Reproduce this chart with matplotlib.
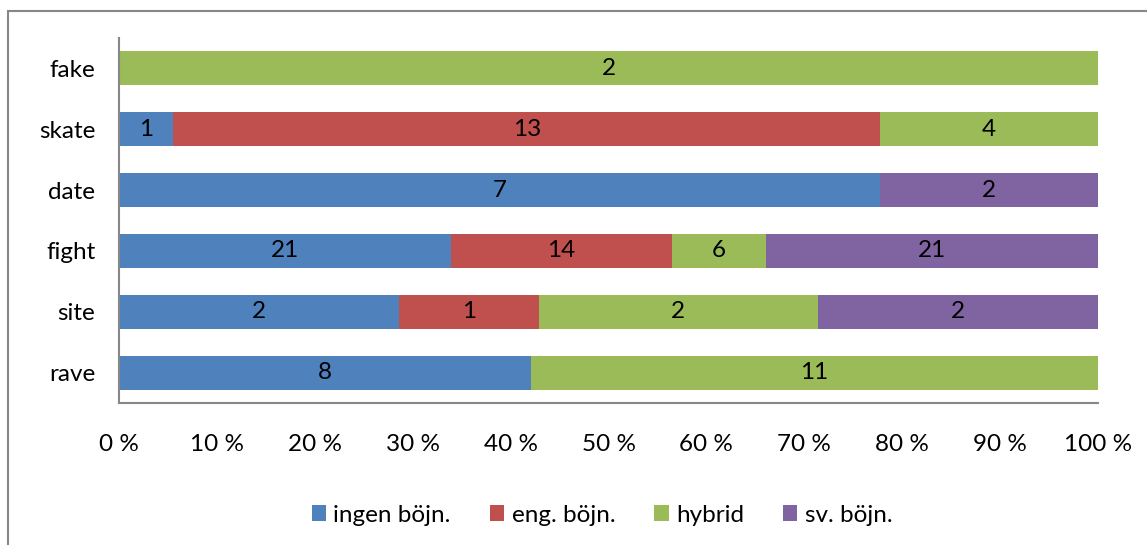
import matplotlib
matplotlib.use("Agg")
import matplotlib.pyplot as plt
from matplotlib.patches import Rectangle
import numpy as np

plt.rcParams['font.family'] = ['Lato', 'DejaVu Sans']

categories = ["rave", "site", "fight", "date", "skate", "fake"]
series_names = ["ingen böjn.", "eng. böjn.", "hybrid", "sv. böjn."]
ingen = [8, 2, 21, 7, 1, 0]
eng = [0, 1, 14, 0, 13, 0]
hybrid = [11, 2, 6, 0, 4, 2]
sv = [0, 2, 21, 2, 0, 0]
colors = ["#4F81BD", "#C0504D", "#9BBB59", "#8064A2"]
xticks = [0, 10, 20, 30, 40, 50, 60, 70, 80, 90, 100]

data = np.array([ingen, eng, hybrid, sv], dtype=float)
totals = data.sum(axis=0)
pct = data / totals * 100

fig = plt.figure(figsize=(11.47, 5.45), dpi=100)
ax = fig.add_axes([119/1147, 1 - 403/545, (1098-119)/1147, (403-38)/545])

fig.patches.append(Rectangle((8/1147, -0.1), 1.2, 1 - 11/545 + 0.1, transform=fig.transFigure,
                             fill=False, edgecolor="#878787", linewidth=1.5))

y = np.arange(len(categories))
left = np.zeros(len(categories))
fs = 17.5
for i, name in enumerate(series_names):
    bars = ax.barh(y, pct[i], left=left, height=0.56, color=colors[i], label=name)
    for j in range(len(categories)):
        if data[i, j] > 0:
            ax.text(left[j] + pct[i, j] / 2, y[j], f"{int(data[i, j])}",
                    ha="center", va="center", fontsize=fs, color="black")
    left += pct[i]

ax.set_xlim(0, 100)
ax.set_ylim(-0.5, len(categories) - 0.5)
ax.set_yticks(y)
ax.set_yticklabels(categories, fontsize=fs)
ax.set_xticks(xticks)
ax.set_xticklabels([f"{t} %" for t in xticks], fontsize=fs)
ax.tick_params(axis="both", length=0)
ax.tick_params(axis="y", pad=17)
ax.tick_params(axis="x", pad=22)
for s in ["top", "right"]:
    ax.spines[s].set_visible(False)
for s in ["left", "bottom"]:
    ax.spines[s].set_color("#878787")
    ax.spines[s].set_linewidth(1.5)

leg = fig.legend(loc="center", bbox_to_anchor=(602/1147, 1 - 515/545), ncol=4, frameon=False,
                 fontsize=fs, handlelength=0.6, handleheight=0.6, handletextpad=0.3,
                 columnspacing=1.6)

fig.savefig("out.png", dpi=100)
